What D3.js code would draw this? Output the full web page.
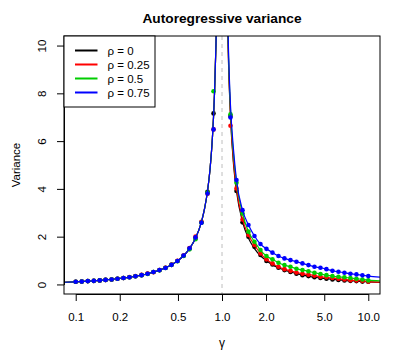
<!DOCTYPE html>
<html>
<head>
<meta charset="utf-8">
<script src="https://cdn.jsdelivr.net/npm/d3@7"></script>
<style>
  body { margin: 0; background: #fff; }
  text { font-family: "Liberation Sans", Arial, sans-serif; }
</style>
</head>
<body>
<div id="chart"></div>
<script>
// --- data ---
var rhos = [0, 0.25, 0.5, 0.75];
var rhoLabels = ["\u03c1 = 0", "\u03c1 = 0.25", "\u03c1 = 0.5", "\u03c1 = 0.75"];
var xTicks = [0.1, 0.2, 0.5, 1, 2, 5, 10];
var yTicks = [0, 2, 4, 6, 8, 10];

// gamma grid of the points (below 1 and above 1)
var gammaLo = [0.100, 0.110, 0.121, 0.133, 0.146, 0.160, 0.176, 0.193, 0.212, 0.233, 0.256, 0.282,
               0.310, 0.340, 0.374, 0.411, 0.452, 0.496, 0.546, 0.600, 0.659, 0.724, 0.796, 0.875];
var gammaHi = [1.143, 1.256, 1.381, 1.517, 1.667, 1.832, 2.013, 2.213, 2.432, 2.673, 2.937, 3.228,
               3.548, 3.899, 4.285, 4.709, 5.175, 5.687, 6.250, 6.869, 7.549, 8.296, 9.117, 10.0];

// points, one array per rho (gammaLo then gammaHi)
var pts0  = [0.11, 0.12, 0.14, 0.15, 0.17, 0.19, 0.21, 0.24, 0.27, 0.30, 0.34, 0.39,
             0.45, 0.52, 0.60, 0.70, 0.82, 0.98, 1.20, 1.50, 1.95, 2.60, 3.88, 7.16,
             7.05, 3.91, 2.60, 2.00, 1.58, 1.23, 0.98, 0.84, 0.70, 0.60, 0.52, 0.45,
             0.39, 0.35, 0.30, 0.27, 0.24, 0.21, 0.19, 0.17, 0.15, 0.14, 0.12, 0.11];
var pts25 = [0.11, 0.12, 0.14, 0.15, 0.17, 0.19, 0.21, 0.24, 0.27, 0.31, 0.35, 0.40,
             0.46, 0.51, 0.60, 0.70, 0.83, 0.99, 1.21, 1.52, 2.00, 2.62, 3.80, 6.49,
             6.64, 4.02, 2.72, 2.07, 1.65, 1.30, 1.05, 0.88, 0.74, 0.64, 0.57, 0.50,
             0.45, 0.41, 0.37, 0.32, 0.30, 0.27, 0.24, 0.21, 0.18, 0.17, 0.15, 0.12];
var pts50 = [0.11, 0.12, 0.14, 0.15, 0.17, 0.19, 0.21, 0.24, 0.27, 0.30, 0.34, 0.39,
             0.44, 0.52, 0.59, 0.69, 0.82, 0.97, 1.19, 1.47, 1.89, 2.58, 3.85, 8.09,
             7.12, 4.26, 2.97, 2.21, 1.79, 1.44, 1.19, 1.05, 0.91, 0.81, 0.74, 0.66,
             0.60, 0.55, 0.49, 0.44, 0.39, 0.35, 0.32, 0.30, 0.27, 0.24, 0.21, 0.17];
var pts75 = [0.11, 0.12, 0.14, 0.15, 0.17, 0.19, 0.21, 0.24, 0.27, 0.30, 0.34, 0.39,
             0.45, 0.52, 0.60, 0.69, 0.82, 0.98, 1.21, 1.51, 1.97, 2.58, 3.81, 6.49,
             6.99, 4.37, 3.11, 2.49, 2.03, 1.69, 1.49, 1.33, 1.19, 1.09, 1.02, 0.95,
             0.88, 0.81, 0.74, 0.70, 0.64, 0.57, 0.53, 0.49, 0.45, 0.42, 0.38, 0.35];

// curve grid (wider, denser near the pole; null at gamma = 1 breaks the line)
var gammaCurve = [0.08, 0.100, 0.110, 0.121, 0.133, 0.146, 0.160, 0.176, 0.193, 0.212, 0.233, 0.256, 0.282,
                  0.310, 0.340, 0.374, 0.411, 0.452, 0.496, 0.546, 0.600, 0.659, 0.724, 0.760, 0.796, 0.830,
                  0.860, 0.875, 0.890, 0.910, 0.930, 0.950, 0.980, 1.0,
                  1.02, 1.05, 1.07, 1.09, 1.11, 1.143, 1.20, 1.256, 1.381, 1.517, 1.667, 1.832, 2.013, 2.213,
                  2.432, 2.673, 2.937, 3.228, 3.548, 3.899, 4.285, 4.709, 5.175, 5.687, 6.250, 6.869, 7.549,
                  8.296, 9.117, 10.0, 12.0];
var leftCurve = [0.087, 0.111, 0.124, 0.138, 0.153, 0.171, 0.190, 0.214, 0.239, 0.269, 0.304, 0.344, 0.393,
                 0.449, 0.515, 0.597, 0.698, 0.825, 0.984, 1.20, 1.50, 1.93, 2.62, 3.17, 3.90, 4.88,
                 6.14, 7.00, 8.09, 10.1, 13.3, 19.0, 49.0, null];
var curve0  = leftCurve.concat([50, 20, 14.3, 11.1, 9.1, 7.0, 5.0, 3.90, 2.62, 1.93, 1.50, 1.20, 0.99, 0.82,
                 0.70, 0.60, 0.52, 0.45, 0.39, 0.345, 0.30, 0.27, 0.24, 0.21, 0.19, 0.17, 0.15, 0.14, 0.12, 0.11, 0.09]);
var curve25 = leftCurve.concat([50, 20.1, 14.4, 11.2, 9.2, 7.1, 5.1, 4.02, 2.72, 2.07, 1.65, 1.30, 1.05, 0.88,
                 0.74, 0.64, 0.57, 0.50, 0.45, 0.41, 0.37, 0.32, 0.30, 0.27, 0.24, 0.21, 0.18, 0.17, 0.15, 0.12, 0.10]);
var curve50 = leftCurve.concat([50, 20.2, 14.6, 11.4, 9.4, 7.3, 5.4, 4.26, 2.97, 2.21, 1.79, 1.44, 1.19, 1.05,
                 0.91, 0.81, 0.74, 0.66, 0.60, 0.55, 0.49, 0.44, 0.39, 0.35, 0.32, 0.30, 0.27, 0.24, 0.21, 0.18, 0.15]);
var curve75 = leftCurve.concat([50, 20.4, 14.8, 11.6, 9.6, 7.5, 5.6, 4.37, 3.11, 2.49, 2.03, 1.69, 1.49, 1.33,
                 1.19, 1.09, 1.02, 0.95, 0.88, 0.81, 0.74, 0.70, 0.64, 0.57, 0.53, 0.49, 0.45, 0.42, 0.38, 0.35, 0.31]);

var pointSets = [pts0, pts25, pts50, pts75];
var curveSets = [curve0, curve25, curve50, curve75];
var colors = ["#000000", "#FF0000", "#00CD00", "#0000FF"];

// --- layout ---
var W = 395, H = 359;
var box = {left: 64, right: 380, top: 36, bottom: 294};
var padX = (box.right - box.left) * 0.04 / 1.08,
    padY = (box.bottom - box.top) * 0.04 / 1.08;

var svg = d3.select("#chart").append("svg")
    .attr("width", W)
    .attr("height", H);

var x = d3.scaleLog()
    .domain([0.1, 10])
    .range([box.left + padX, box.right - padX]);
var y = d3.scaleLinear()
    .domain([0, 10])
    .range([box.bottom - padY, box.top + padY]);

svg.append("defs").append("clipPath").attr("id", "clip")
  .append("rect")
    .attr("x", box.left).attr("y", box.top)
    .attr("width", box.right - box.left).attr("height", box.bottom - box.top);

// dashed line at gamma = 1
svg.append("line")
    .attr("x1", x(1)).attr("x2", x(1))
    .attr("y1", box.top).attr("y2", box.bottom)
    .attr("stroke", "#bebebe")
    .attr("stroke-dasharray", "4,4")
    .attr("stroke-width", 1);

var plot = svg.append("g").attr("clip-path", "url(#clip)");

var line = d3.line()
    .defined(function(d) { return d[1] != null; })
    .x(function(d) { return x(d[0]); })
    .y(function(d) { return y(d[1]); })
    .curve(d3.curveMonotoneX);

var allGamma = gammaLo.concat(gammaHi);

rhos.forEach(function(r, i) {
  var cdata = gammaCurve.map(function(g, j) { return [g, curveSets[i][j]]; });
  plot.append("path")
      .datum(cdata)
      .attr("d", line)
      .attr("fill", "none")
      .attr("stroke", colors[i])
      .attr("stroke-width", 1.2);

  plot.selectAll(".pt" + i)
      .data(allGamma.map(function(g, j) { return [g, pointSets[i][j]]; }))
      .enter().append("circle")
      .attr("class", "pt" + i)
      .attr("cx", function(d) { return x(d[0]); })
      .attr("cy", function(d) { return y(d[1]); })
      .attr("r", 2.3)
      .attr("fill", colors[i]);
});

// box
svg.append("rect")
    .attr("x", box.left).attr("y", box.top)
    .attr("width", box.right - box.left).attr("height", box.bottom - box.top)
    .attr("fill", "none")
    .attr("stroke", "#000")
    .attr("stroke-width", 1);

// axes
var xAxis = svg.append("g")
    .attr("transform", "translate(0," + box.bottom + ")")
    .call(d3.axisBottom(x)
      .tickValues(xTicks)
      .tickFormat(d3.format(".1f"))
      .tickSize(7)
      .tickSizeOuter(0));
xAxis.selectAll("text")
    .attr("y", 26.5)
    .attr("dy", 0)
    .attr("fill", "#000")
    .style("font-size", "11.5px");

var yAxis = svg.append("g")
    .attr("transform", "translate(" + box.left + ",0)")
    .call(d3.axisLeft(y)
      .tickValues(yTicks)
      .tickFormat(d3.format("d"))
      .tickSize(7)
      .tickSizeOuter(0));
yAxis.selectAll("text")
    .attr("x", 0)
    .attr("dy", 0)
    .attr("text-anchor", "middle")
    .attr("transform", "translate(-18.5,0) rotate(-90)")
    .attr("fill", "#000")
    .style("font-size", "11.5px");

svg.selectAll(".domain, .tick line").attr("stroke", "#000");

// titles
svg.append("text")
    .attr("x", (box.left + box.right) / 2)
    .attr("y", 23)
    .attr("text-anchor", "middle")
    .style("font-weight", "bold")
    .style("font-size", "13.7px")
    .text("Autoregressive variance");

svg.append("text")
    .attr("x", (box.left + box.right) / 2)
    .attr("y", 347)
    .attr("text-anchor", "middle")
    .style("font-size", "12px")
    .text("\u03b3");

svg.append("text")
    .attr("transform", "translate(19.5," + ((box.top + box.bottom) / 2) + ") rotate(-90)")
    .attr("text-anchor", "middle")
    .style("font-size", "11.5px")
    .text("Variance");

// legend
var legend = svg.append("g");
legend.append("rect")
    .attr("x", box.left).attr("y", box.top)
    .attr("width", 91).attr("height", 71)
    .attr("fill", "#fff")
    .attr("stroke", "#000")
    .attr("stroke-width", 1);

rhoLabels.forEach(function(lab, i) {
  var ly = box.top + 14.5 + i * 14;
  legend.append("line")
      .attr("x1", box.left + 11).attr("x2", box.left + 33.5)
      .attr("y1", ly).attr("y2", ly)
      .attr("stroke", colors[i])
      .attr("stroke-width", 2);
  legend.append("text")
      .attr("x", box.left + 43.5)
      .attr("y", ly + 4)
      .style("font-size", "11.5px")
      .text(lab);
});
</script>
</body>
</html>
